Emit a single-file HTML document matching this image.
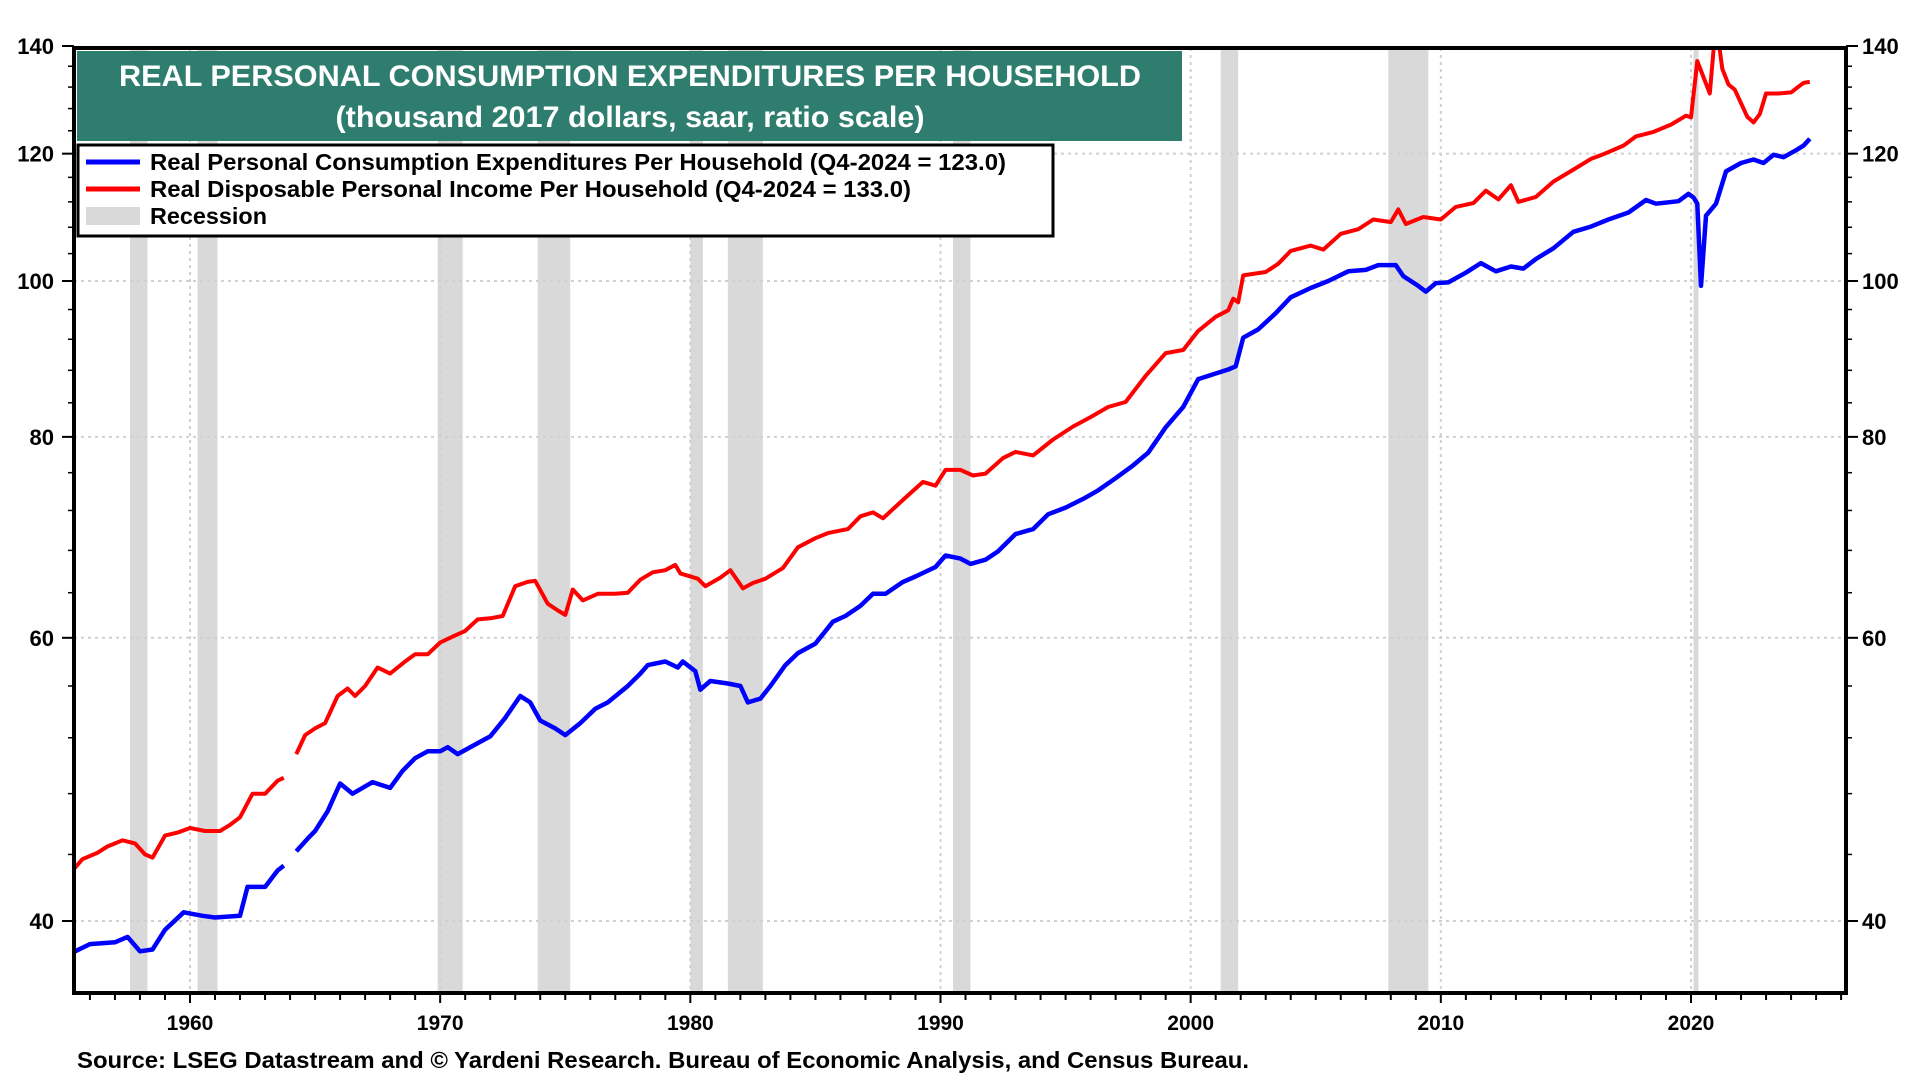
<!DOCTYPE html>
<html><head><meta charset="utf-8">
<style>
html,body{margin:0;padding:0;background:#fff;}
svg text{font-family:"Liberation Sans",Arial,sans-serif;font-weight:bold;}
</style></head>
<body>
<svg id="chart" width="1920" height="1080" viewBox="0 0 1920 1080" xmlns="http://www.w3.org/2000/svg">
<defs><clipPath id="plotclip"><rect x="74" y="48" width="1772" height="945"/></clipPath></defs>
<g id="rec" clip-path="url(#plotclip)"></g>
<g id="grid"></g>
<g id="series" clip-path="url(#plotclip)"></g>
<rect x="74" y="48" width="1772" height="945" fill="none" stroke="#000" stroke-width="4"/>
<g id="axes"></g>
<rect x="77" y="51" width="1105" height="90" fill="#2f7d6e"/>
<text x="630" y="86" fill="#fff" font-size="30" text-anchor="middle" textLength="1022" lengthAdjust="spacingAndGlyphs">REAL PERSONAL CONSUMPTION EXPENDITURES PER HOUSEHOLD</text>
<text x="630" y="127" fill="#fff" font-size="30" text-anchor="middle" textLength="589" lengthAdjust="spacingAndGlyphs">(thousand 2017 dollars, saar, ratio scale)</text>
<g>
<rect x="78" y="145" width="975" height="91" fill="#fff" stroke="#000" stroke-width="3"/>
<line x1="86" y1="162" x2="140" y2="162" stroke="#0000ff" stroke-width="5"/>
<text x="150" y="170" font-size="23" textLength="856" lengthAdjust="spacingAndGlyphs">Real Personal Consumption Expenditures Per Household (Q4-2024 = 123.0)</text>
<line x1="86" y1="189" x2="140" y2="189" stroke="#ff0000" stroke-width="5"/>
<text x="150" y="197" font-size="23" textLength="761" lengthAdjust="spacingAndGlyphs">Real Disposable Personal Income Per Household (Q4-2024 = 133.0)</text>
<rect x="86" y="207" width="54" height="18" fill="#d9d9d9"/>
<text x="150" y="224" font-size="23" textLength="117" lengthAdjust="spacingAndGlyphs">Recession</text>
</g>
<text x="77" y="1068" font-size="23" textLength="1172" lengthAdjust="spacingAndGlyphs">Source: LSEG Datastream and © Yardeni Research. Bureau of Economic Analysis, and Census Bureau.</text>
</svg>
<script>
const recessions=[[1957.6,1958.3],[1960.3,1961.1],[1969.9,1970.9],[1973.9,1975.2],[1980.0,1980.5],[1981.5,1982.9],[1990.5,1991.2],[2001.2,2001.9],[2007.9,2009.5],[2020.1,2020.3]];
const yTicks=[40,60,80,100,120,140];
const xTicks=[1960,1970,1980,1990,2000,2010,2020];
const pceYears=[1955.25,1956,1957,1957.5,1958,1958.5,1959,1959.75,1960.5,1961,1962,1962.3,1963,1963.5,1963.75,null,1964.25,1964.7,1965,1965.5,1966,1966.5,1967.3,1968,1968.5,1969,1969.5,1970,1970.3,1970.7,1971.3,1972,1972.6,1973.2,1973.6,1974,1974.6,1975,1975.6,1976.2,1976.7,1977.5,1978,1978.3,1979,1979.5,1979.7,1980.2,1980.4,1980.8,1981.5,1982,1982.3,1982.8,1983.2,1983.8,1984.3,1985,1985.7,1986.2,1986.8,1987.3,1987.8,1988.5,1989,1989.8,1990.2,1990.8,1991.2,1991.8,1992.3,1993,1993.7,1994.3,1995,1995.7,1996.3,1997,1997.7,1998.3,1999,1999.7,2000.3,2001,2001.5,2001.8,2002.1,2002.7,2003.4,2004,2004.8,2005.5,2006.3,2007,2007.5,2008.2,2008.5,2009.1,2009.4,2009.8,2010.3,2011,2011.6,2012.2,2012.8,2013.3,2013.8,2014.5,2015.3,2016,2016.7,2017.5,2018.2,2018.6,2019.5,2019.9,2020.1,2020.25,2020.4,2020.6,2021,2021.4,2022,2022.5,2022.9,2023.3,2023.7,2024.2,2024.5,2024.75];
const pceValues=[38.2,38.7,38.8,39.1,38.3,38.4,39.5,40.5,40.3,40.2,40.3,42.0,42.0,43.0,43.3,null,44.2,45.0,45.5,46.8,48.7,48.0,48.8,48.4,49.6,50.5,51.0,51.0,51.3,50.8,51.4,52.1,53.5,55.2,54.7,53.3,52.7,52.2,53.1,54.2,54.7,56.0,57.0,57.7,58.0,57.5,58.0,57.2,55.7,56.4,56.2,56.0,54.7,55.0,56.0,57.7,58.7,59.5,61.4,61.9,62.8,63.9,63.9,65.0,65.5,66.4,67.5,67.2,66.7,67.1,67.9,69.6,70.1,71.6,72.3,73.2,74.1,75.4,76.8,78.2,81.1,83.5,86.9,87.6,88.1,88.5,92.2,93.3,95.5,97.7,99.0,100.0,101.4,101.6,102.3,102.3,100.7,99.3,98.5,99.7,99.8,101.2,102.6,101.4,102.1,101.8,103.2,104.8,107.3,108.1,109.2,110.3,112.3,111.7,112.1,113.3,112.7,111.7,99.3,109.8,111.7,117.0,118.4,119.0,118.4,119.8,119.4,120.6,121.4,122.6];
const incYears=[1955.25,1955.7,1956.3,1956.7,1957.3,1957.8,1958.2,1958.5,1959,1959.5,1960,1960.6,1961.2,1961.6,1962,1962.5,1963,1963.5,1963.75,null,1964.25,1964.6,1965,1965.4,1965.9,1966.3,1966.6,1967,1967.5,1968,1968.6,1969,1969.5,1970,1970.5,1971,1971.5,1972,1972.5,1973,1973.5,1973.8,1974.3,1974.7,1975,1975.3,1975.7,1976.3,1977,1977.5,1978,1978.5,1979,1979.4,1979.6,1980.3,1980.6,1981.2,1981.6,1982.1,1982.5,1983,1983.7,1984.3,1985,1985.5,1986.3,1986.8,1987.3,1987.7,1988.5,1989.3,1989.8,1990.2,1990.8,1991.3,1991.8,1992.5,1993,1993.7,1994.5,1995.3,1996,1996.7,1997.4,1998.2,1999,1999.7,2000.3,2001,2001.5,2001.7,2001.9,2002.1,2003,2003.5,2004,2004.8,2005.3,2006,2006.7,2007.3,2008,2008.3,2008.6,2009.3,2010,2010.6,2011.3,2011.8,2012.3,2012.8,2013.1,2013.8,2014.5,2015.3,2016,2016.5,2017.3,2017.8,2018.5,2019.2,2019.8,2020.0,2020.25,2020.75,2021.0,2021.25,2021.5,2021.75,2022.25,2022.5,2022.75,2023.0,2023.5,2024.0,2024.3,2024.5,2024.75];
const incValues=[42.9,43.7,44.1,44.5,44.9,44.7,44.0,43.8,45.2,45.4,45.7,45.5,45.5,45.9,46.4,48.0,48.0,48.9,49.1,null,50.8,52.2,52.7,53.1,55.2,55.8,55.2,56.0,57.5,57.0,58.0,58.6,58.6,59.6,60.1,60.6,61.6,61.7,61.9,64.6,65.0,65.1,63.0,62.4,62.0,64.3,63.3,63.9,63.9,64.0,65.2,65.9,66.1,66.6,65.8,65.3,64.6,65.4,66.1,64.4,64.9,65.3,66.3,68.3,69.2,69.7,70.1,71.4,71.8,71.2,73.1,75.0,74.6,76.3,76.3,75.7,75.9,77.6,78.3,77.9,79.7,81.2,82.3,83.5,84.1,87.3,90.2,90.6,93.1,95.0,95.9,97.5,97.0,100.8,101.3,102.5,104.4,105.2,104.6,107.0,107.7,109.2,108.8,110.8,108.5,109.6,109.2,111.2,111.8,113.8,112.4,114.7,112.0,112.8,115.3,117.3,119.1,119.9,121.4,123.0,123.8,125.1,126.7,126.4,137.0,130.8,145.0,135.5,132.5,131.5,126.5,125.5,127.0,130.8,130.8,131.0,132.1,132.8,133.0];

const L=74,R=1846,T=48,B=993;
const y140=46,y40=921;
function xs(yr){return 190+(yr-1960)*(1691-190)/60;}
function ys(v){return y140+(Math.log(140)-Math.log(v))/(Math.log(140)-Math.log(40))*(y40-y140);}
const NS='http://www.w3.org/2000/svg';
function mk(tag,attrs,parent){const e=document.createElementNS(NS,tag);for(const k in attrs)e.setAttribute(k,attrs[k]);parent.appendChild(e);return e;}
const gRec=document.getElementById('rec'),gGrid=document.getElementById('grid'),gAx=document.getElementById('axes'),gS=document.getElementById('series');
recessions.forEach(r=>{
  const e=mk('rect',{x:xs(r[0]),y:T,width:xs(r[1])-xs(r[0]),height:B-T,fill:'#d9d9d9'},gRec);
  
  
});
yTicks.forEach(v=>{
  const y=ys(v);
  if(v<140){const g=mk('line',{x1:L,x2:R,y1:y,y2:y,stroke:'#d0d0d0','stroke-width':2,'stroke-dasharray':'3,4'},gGrid);
  
  }
  mk('line',{x1:L-12,x2:L,y1:y,y2:y,stroke:'#000','stroke-width':2},gAx);
  mk('line',{x1:R,x2:R+12,y1:y,y2:y,stroke:'#000','stroke-width':2},gAx);
  const t1=mk('text',{x:54,y:y+8,'font-size':22,'text-anchor':'end'},gAx);t1.textContent=v;
  
  
  const t2=mk('text',{x:1862,y:y+8,'font-size':22},gAx);t2.textContent=v;
  
  
});
for(let v=36;v<140;v+=4){const y=ys(v);if(y>B||y<T)continue;
  mk('line',{x1:L-6,x2:L,y1:y,y2:y,stroke:'#000','stroke-width':1.5},gAx);
  mk('line',{x1:R,x2:R+6,y1:y,y2:y,stroke:'#000','stroke-width':1.5},gAx);}
for(let yr=1956;yr<=2026;yr++){const x=xs(yr);
  mk('line',{x1:x,x2:x,y1:B,y2:B+(yr%10==0?10:7),stroke:'#000','stroke-width':2},gAx);}
xTicks.forEach(yr=>{
  const x=xs(yr);
  const g=mk('line',{x1:x,x2:x,y1:T,y2:B,stroke:'#d0d0d0','stroke-width':2,'stroke-dasharray':'3,4'},gGrid);
  
  
  const t=mk('text',{x:x,y:1030,'font-size':21,'text-anchor':'middle'},gAx);t.textContent=yr;
  
  
});
function path(years,vals){let d='',pen=false;
  for(let i=0;i<years.length;i++){if(years[i]===null||vals[i]===null){pen=false;continue;}
    d+=(pen?'L':'M')+xs(years[i]).toFixed(1)+','+ys(vals[i]).toFixed(1);pen=true;}
  return d;}
const pInc=mk('path',{d:path(incYears,incValues),fill:'none',stroke:'#ff0000','stroke-width':4,'stroke-linejoin':'round'},gS);


const pPce=mk('path',{d:path(pceYears,pceValues),fill:'none',stroke:'#0000ff','stroke-width':4.5,'stroke-linejoin':'round'},gS);


</script>
</body></html>
